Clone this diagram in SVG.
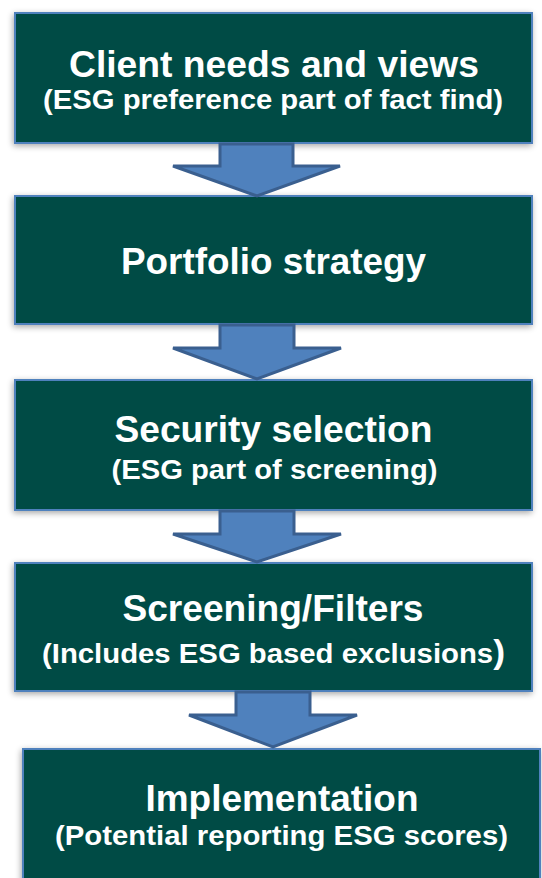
<svg xmlns="http://www.w3.org/2000/svg" width="542" height="878" viewBox="0 0 542 878">
<defs>
<filter id="sh" x="-5%" y="-10%" width="110%" height="125%">
<feGaussianBlur in="SourceAlpha" stdDeviation="3"/>
<feOffset dx="-1" dy="2" result="b"/>
<feComponentTransfer><feFuncA type="linear" slope="0.35"/></feComponentTransfer>
<feMerge><feMergeNode/><feMergeNode in="SourceGraphic"/></feMerge>
</filter>
</defs>
<style>
.box{fill:#024B45;stroke:#4F81BD;stroke-width:2;filter:url(#sh)}
.t{font-family:"Liberation Sans",Arial,sans-serif;font-weight:bold;fill:#FFFFFF;text-anchor:middle}
.h{font-size:37px}
.s{font-size:28px}
.arr{fill:#4F81BD;stroke:#3A5F8F;stroke-width:3;stroke-linejoin:miter}
</style>
<g id="n1">
<rect class="box" x="15" y="13" width="517" height="130"/>
<text class="t h" x="274" y="77" textLength="410" lengthAdjust="spacingAndGlyphs">Client needs and views</text>
<text class="t s" x="273" y="109" textLength="460" lengthAdjust="spacingAndGlyphs">(ESG preference part of fact find)</text>
</g>
<g id="n2">
<rect class="box" x="15" y="196" width="517" height="128"/>
<text class="t h" x="273.5" y="274" textLength="305" lengthAdjust="spacingAndGlyphs">Portfolio strategy</text>
</g>
<g id="n3">
<rect class="box" x="15" y="380" width="517" height="130"/>
<text class="t h" x="273.5" y="442" textLength="318" lengthAdjust="spacingAndGlyphs">Security selection</text>
<text class="t s" x="274.5" y="479" textLength="326" lengthAdjust="spacingAndGlyphs">(ESG part of screening)</text>
</g>
<g id="n4">
<rect class="box" x="15" y="563" width="517" height="128"/>
<text class="t h" x="273" y="621" textLength="301" lengthAdjust="spacingAndGlyphs">Screening/Filters</text>
<text class="t s" x="273.5" y="663" textLength="463" lengthAdjust="spacingAndGlyphs">(Includes ESG based exclusions<tspan font-size="34">)</tspan></text>
</g>
<g id="n5">
<rect class="box" x="23" y="749" width="517" height="135"/>
<text class="t h" x="282" y="811" textLength="273" lengthAdjust="spacingAndGlyphs">Implementation</text>
<text class="t s" x="281.5" y="845" textLength="453" lengthAdjust="spacingAndGlyphs">(Potential reporting ESG scores)</text>
</g>
<g id="connectors">
<polygon class="arr" points="220,144 293,144 293,166 340,166 257,196 173,166 220,166"/>
<polygon class="arr" points="220,325 294,325 294,348 341,348 257,379 173,348 220,348"/>
<polygon class="arr" points="220,511 294,511 294,534 341,534 257,562 173,534 220,534"/>
<polygon class="arr" points="236,692 310,692 310,715 357,715 273,747 189,715 236,715"/>
</g>
</svg>
